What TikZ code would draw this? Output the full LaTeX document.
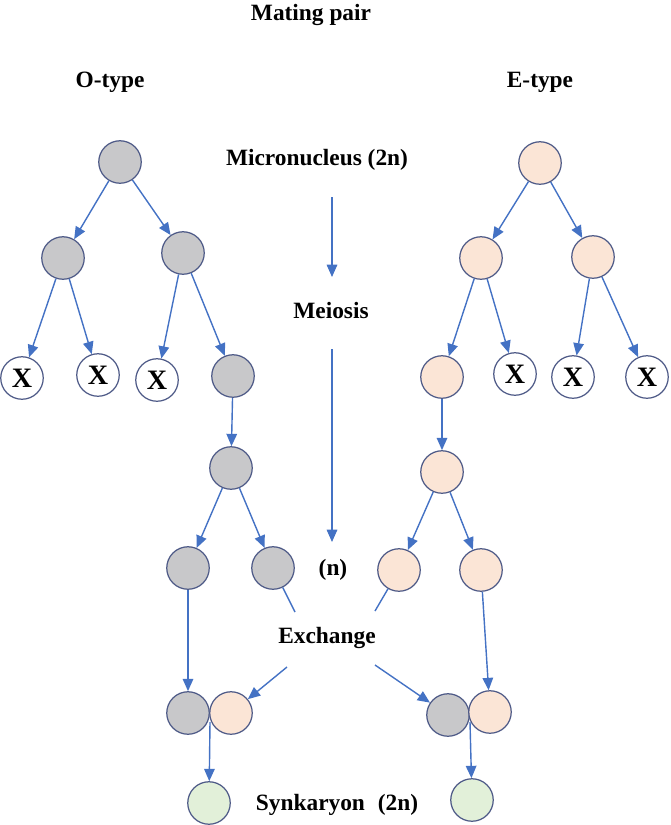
\documentclass[tikz,border=0pt]{standalone}
\usepackage{fontspec}
\setmainfont{Liberation Serif}
\usetikzlibrary{positioning, arrows.meta}

\definecolor{arrowblue}{RGB}{68,114,196}
\definecolor{rimblue}{RGB}{78,90,135}
\definecolor{ogray}{RGB}{200,200,202}
\definecolor{epeach}{RGB}{251,229,214}
\definecolor{sgreen}{RGB}{226,240,217}

\begin{document}
\begin{tikzpicture}[
    x=0.02cm, y=-0.02cm,
    title/.style={font=\fontsize{13.3}{15}\selectfont\bfseries, anchor=base},
    nuc/.style={circle, draw=rimblue, line width=0.7pt, minimum size=0.85cm, inner sep=0pt, font=\fontsize{16}{18}\selectfont\bfseries},
    onuc/.style={nuc, fill=ogray},
    enuc/.style={nuc, fill=epeach},
    snuc/.style={nuc, fill=sgreen},
    xnuc/.style={nuc, fill=white},
    arr/.style={draw=arrowblue, line width=0.8pt, -{Triangle[length=7pt, width=6pt]}},
    link/.style={draw=arrowblue, line width=0.8pt},
]
\useasboundingbox (0,0) rectangle (670,825);

% Draw the titles
\node[title] (MP) at (311,20) {Mating pair};
\node[title] (OT) at (110,87) {O-type};
\node[title] (ET) at (540,87) {E-type};
\node[title] (MN) at (317,165) {Micronucleus (2n)};
\node[title] (ME) at (331,318) {Meiosis};
\node[title] (HN) at (333,575) {(n)};
\node[title] (EX) at (327,643) {Exchange};
\node[title] (SK) at (337,810) {Synkaryon\hspace{0.3em} (2n)};

% Draw the O-type micronucleus
\node[onuc] (o1) at (120,162) {};
\node[onuc] (o2a) at (63,258) {};
\node[onuc] (o2b) at (183,253) {};
\node[xnuc] (o3a) at (22,378) {X};
\node[xnuc] (o3b) at (98,375) {X};
\node[xnuc] (o3c) at (157,380) {X};
\node[onuc] (o3d) at (233,376) {};
\node[onuc] (o4) at (231,468) {};
\node[onuc] (o5a) at (188,568) {};
\node[onuc] (o5b) at (273,568) {};

% Draw the E-type micronucleus
\node[enuc] (e1) at (540,163) {};
\node[enuc] (e2a) at (481,258) {};
\node[enuc] (e2b) at (593,257) {};
\node[enuc] (e3a) at (442,377) {};
\node[xnuc] (e3b) at (515,374) {X};
\node[xnuc] (e3c) at (573,377) {X};
\node[xnuc] (e3d) at (647,377) {X};
\node[enuc] (e4) at (442,472) {};
\node[enuc] (e5a) at (399,570) {};
\node[enuc] (e5b) at (481,570) {};

% Draw the pairs after exchange and the synkarya
\node[onuc] (plo) at (188,713) {};
\node[enuc] (ple) at (231,713) {};
\node[onuc] (pro) at (448,715) {};
\node[enuc] (pre) at (490,712) {};
\node[snuc] (sl) at (209,803) {};
\node[snuc] (sr) at (472,800) {};

% Draw the meiosis arrows
\foreach \a/\b in {o1/o2a, o1/o2b, o2a/o3a, o2a/o3b, o2b/o3c, o2b/o3d, o3d/o4, o4/o5a, o4/o5b,
                   e1/e2a, e1/e2b, e2a/e3a, e2a/e3b, e2b/e3c, e2b/e3d, e3a/e4, e4/e5a, e4/e5b}
    \draw[arr] (\a) -- (\b);

% Draw the middle arrows
\coordinate (c1) at (332,197);
\coordinate (c2) at (332,277);
\coordinate (c3) at (332,349);
\coordinate (c4) at (332,542);
\draw[arr] (c1) -- (c2);
\draw[arr] (c3) -- (c4);

% Draw the exchange
\coordinate (xo) at (295,612);
\coordinate (xe) at (375,611);
\coordinate (xl) at (287,667);
\coordinate (xr) at (375,665);
\draw[link] (o5b) -- (xo);
\draw[link] (e5a) -- (xe);
\draw[arr] (xl) -- (ple);
\draw[arr] (xr) -- (pro);
\draw[arr] (o5a) -- (plo);
\draw[arr] (e5b) -- (pre);

% Draw the fusion
\coordinate (fl) at (210,722);
\coordinate (fr) at (470,722);
\draw[arr] (fl) -- (sl);
\draw[arr] (fr) -- (sr);

\end{tikzpicture}
\end{document}
